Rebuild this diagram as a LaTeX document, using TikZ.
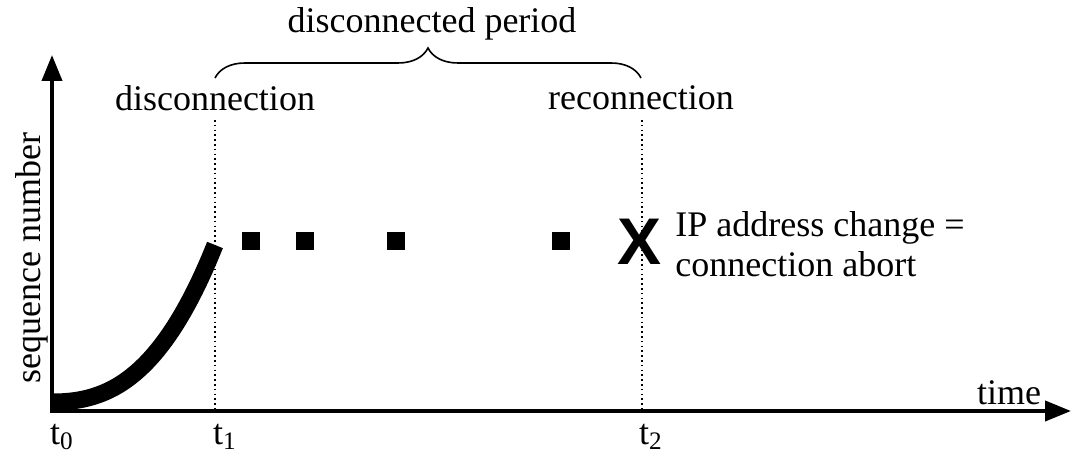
\documentclass[tikz,border=0pt]{standalone}
\usepackage{fontspec}
\setmainfont{Liberation Serif}
\newfontfamily\crossfont{Liberation Sans}
\usetikzlibrary{arrows.meta,decorations.pathreplacing}

\begin{document}
\begin{tikzpicture}[
		x=0.5pt, y=-0.5pt,
		every node/.style={font=\fontsize{18}{20}\selectfont, inner sep=0pt},
		axis/.style={line width=2pt, {Triangle[length=13pt,width=10pt]}-{Triangle[length=13pt,width=10pt]}},
		marker/.style={line width=0.8pt, dash pattern=on 0.8pt off 1.6pt},
		growth/.style={line width=8.5pt},
		pkt/.style={fill=black, minimum size=9pt, inner sep=0pt},
		span/.style={decorate, decoration={brace, amplitude=15pt}, line width=0.8pt}
		]
		\useasboundingbox (0,0) rectangle (1071,458);
		
		% -------- Axes --------
		\coordinate (o) at (52,411);
		\coordinate (ytip) at (52,55);
		\coordinate (xtip) at (1071,411);
		\draw[axis] (ytip) -- (o) -- (xtip);
		
		% Axis labels
		\node[rotate=90] (ylbl) at (32,258) {sequence number};
		\node (xlbl) at (1009,393) {time};
		
		% -------- Time marks --------
		\coordinate (t1top) at (215,120);
		\coordinate (t1bot) at (215,409);
		\coordinate (t2top) at (642,120);
		\coordinate (t2bot) at (642,409);
		\draw[marker] (t1top) -- (t1bot);
		\draw[marker] (t2top) -- (t2bot);
		
		\node (t0) at (62,437) {t\textsubscript{0}};
		\node (t1) at (225,437) {t\textsubscript{1}};
		\node (t2) at (651,437) {t\textsubscript{2}};
		
		% -------- Event labels --------
		\node (disc) at (215,98) {disconnection};
		\node (reco) at (641,98) {reconnection};
		\node (period) at (432,24) {disconnected period};
		
		% ---- Brace over the disconnected period ----
		\coordinate (bl) at (215,78);
		\coordinate (br) at (641,78);
		\draw[span] (bl) -- (br);
		
		% ---- Sequence number growth ----
		\coordinate (c0) at (53,402);
		\coordinate (c1) at (215,245);
		\draw[growth] (c0) .. controls (107,402) and (161,380) .. (c1);
		
		% ---- Lost packets ----
		\foreach \x [count=\i] in {251,305,396,561}
			\node[pkt] (p\i) at (\x,241) {};
		
		% ---- Abort ----
		\node (abort) at (640,242) {\crossfont\bfseries\fontsize{33}{33}\selectfont X};
		\node[anchor=west, align=left] (note) at (675,244) {IP address change =\\connection abort};
		
	\end{tikzpicture}
\end{document}
